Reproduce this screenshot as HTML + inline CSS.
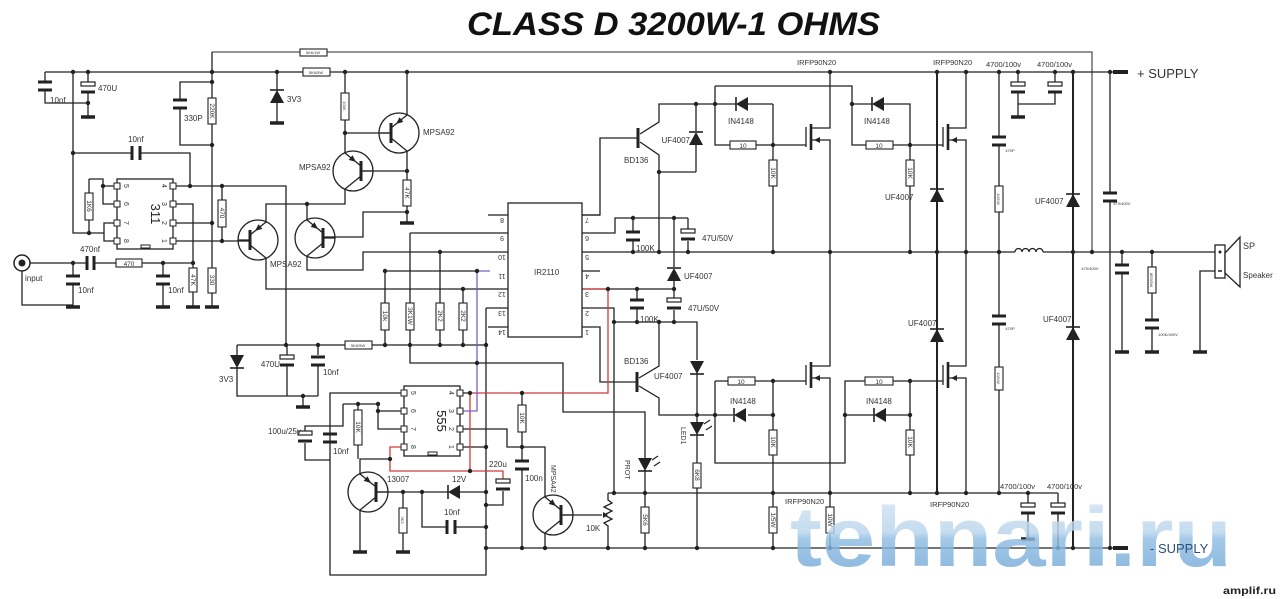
<!DOCTYPE html>
<html><head><meta charset="utf-8"><style>
html,body{margin:0;padding:0;background:#fff;}
svg{display:block;}
text{font-family:"Liberation Sans",sans-serif;fill:#333;}
</style></head><body>
<svg width="1280" height="599" viewBox="0 0 1280 599" xmlns="http://www.w3.org/2000/svg">
<defs>
<linearGradient id="wm" x1="0" y1="0" x2="0" y2="1">
<stop offset="0" stop-color="#d6e7f4"/>
<stop offset="0.45" stop-color="#b9d5ec"/>
<stop offset="0.52" stop-color="#8fbde2"/>
<stop offset="1" stop-color="#6aa3d4"/>
</linearGradient>
<g id="tr">
<circle r="20" fill="none" stroke="#222" stroke-width="1.3"/>
<path d="M-20 0 H-8 M-8 -5 L8 -18 M-8 5 L8 18" fill="none" stroke="#222" stroke-width="1.3"/>
<path d="M-8 -10 V10" stroke="#222" stroke-width="3"/>
<polygon points="-3,-9 4.3,-11.1 0.5,-15.7" fill="#222"/>
</g>
<g id="rc"><path d="M-7 0 H7 M-7 8 H7" stroke="#222" stroke-width="3" fill="none"/></g>
<g id="ec"><rect x="-7" y="-2" width="14" height="4" fill="#fff" stroke="#222" stroke-width="1.2"/><path d="M-7 8 H7" stroke="#222" stroke-width="3"/></g>
<g id="gnd"><path d="M-7 0 H7" stroke="#222" stroke-width="3.5"/></g>
<g id="dup"><polygon points="-7,7 7,7 0,-6" fill="#222"/><path d="M-7 -6 H7" stroke="#222" stroke-width="1.6"/></g>
<g id="ddn"><polygon points="-7,-6 7,-6 0,7" fill="#222"/><path d="M-7 7 H7" stroke="#222" stroke-width="1.6"/></g>
<g id="dlf"><polygon points="6,-7 6,7 -6,0" fill="#222"/><path d="M-6 -7 V7" stroke="#222" stroke-width="1.6"/></g>
</defs>
<rect width="1280" height="599" fill="#fff"/>
<text x="467" y="35" font-size="32" font-weight="bold" font-style="italic" textLength="413" lengthAdjust="spacingAndGlyphs" style="fill:#111">CLASS D 3200W-1  OHMS</text>

<g fill="none" stroke="#222" stroke-width="1.3">
<path d="M212 52 H1092 V252" stroke="#555"/>
<path d="M45 72 H1113"/>
<path d="M45 72 V82 M45 90 V103 H88 M88 72 V82 M88 92 V116"/>
<path d="M73 72 V233 H104 V223 H117 M104 233 V241 H117"/>
<path d="M73 153 H132 M140 153 H190 V186"/>
<path d="M89 179 V193 M89 220 V233 M89 179 H103 V204 H117 M103 186 H117"/>
<path d="M173 186 H286 V345 M173 204 H193 V268 M173 223 H212 M173 241 H250"/>
<path d="M222 186 V200 M222 227 V241"/>
<path d="M212 52 V98 M212 124 V268 M212 293 V306"/>
<path d="M212 82 H180 V100 M180 108 V145 H212"/>
<path d="M277 72 V90 M277 100 V122"/>
<path d="M30 263 H87 M94 263 H116 M142 263 H193 M73 263 V276 M73 284 V306 M22 271 V305 H73 M163 263 V276 M163 284 V306 M193 292 V306"/>
<path d="M132 146 V160 M140 146 V160 M87 256 V270 M94 256 V270" stroke-width="3"/>
<path d="M266 222 V204 H345 V189 M266 258 V289 H508"/>
<path d="M307 220 V204 M307 256 V270 H363 V252 H508"/>
<path d="M323 237 H363 V212 H407"/>
<path d="M361 171 H407 M345 153 V133 H390 M345 72 V93 M345 120 V133"/>
<path d="M407 115 V72 M407 151 V180 M407 206 V222"/>
<path d="M488 215 H508 M488 327 H508 M410 233 H508 M385 271 H477 M486 308 H508"/>
<path d="M385 271 V303 M385 330 V345 M410 233 V303 M410 330 V363 H563 V412 H645 V458 M440 252 V303 M440 330 V345 M463 289 V303 M463 330 V345"/>
<path d="M237 345 H345 M372 345 H486"/>
<path d="M237 345 V355 M237 367 V396 H318 M287 345 V355 M287 365 V396 M318 345 V355 M318 365 V396 M303 396 V406"/>
<path d="M486 308 V575 H330 V393 H404"/>
<path d="M343 404 H378 V429 H404 M378 411 H404 M358 404 V410 M358 445 V459 M343 404 V426 H305 V431 M305 443 V460 H330"/>
<path d="M360 474 V459 H390 M360 510 V551"/>
<path d="M376 492 H448 M460 492 H486 M403 492 V508 M403 533 V551 M422 492 V527 H447 M455 527 H486"/>
<path d="M447 520 V534 M455 520 V534" stroke-width="3"/>
<path d="M503 491 V505 H486"/>
<path d="M460 393 H470 M460 429 H507 V447 H545 V497 M460 447 H486"/>
<path d="M522 393 V405 M522 432 V461 M522 469 V548"/>
<path d="M561 515 H602 M545 533 V548"/>
<path d="M608 493 V500 l4 3 l-8 4 l8 4 l-8 4 l8 4 l-8 4 l4 3 V548"/>
<path d="M582 215 H600 V138 H638"/>
<path d="M640 134 L659 122 V104 H736 M748 104 H773 M640 142 L659 155 V172 H696 M659 172 V252"/>
<path d="M696 104 V131 M696 145 V172"/>
<path d="M715 86 V145 H730 M756 145 H806 M773 104 V160 M773 186 V252"/>
<path d="M715 86 H852 V145 H866 M893 145 H943 M852 104 H872 M884 104 H910 V160 M910 186 V252"/>
<path d="M830 72 V128 H811 M811 140 H830 V366 H811 M811 378 H830 V507 M830 533 V548"/>
<path d="M966 72 V128 H948 M948 140 H966 V366 H948 M948 378 H966 V493"/>
<path d="M806 127 V147 M806 365 V385 M943 127 V147 M943 365 V385"/>
<path d="M811 124 V150 M811 362 V388 M948 124 V150 M948 362 V388" stroke-width="2.6"/>
<path d="M582 233 H615 V218 H688 M633 218 V232 M633 240 V252 M688 218 V229 M688 241 V252 M674 218 V267 M674 280 V289"/>
<path d="M582 289 H674 M637 289 V300 M637 308 V322 M674 289 V298 M674 310 V322"/>
<path d="M582 308 H614 V493 H1058 M608 493 H614 M614 322 H697 V360 M697 373 V422 M697 434 V463 M697 488 V548"/>
<path d="M582 327 H600 V382 H637"/>
<path d="M639 378 L659 366 V322 M639 386 L659 398 V415 H733 M748 415 H773"/>
<path d="M715 381 H728 M755 381 H806 M715 381 V463 H845 V381 H865 M893 381 H943"/>
<path d="M773 381 V430 M773 455 V507 M773 533 V548 M845 415 H874 M886 415 H910 M910 381 V430 M910 455 V493"/>
<path d="M645 470 V507 M645 533 V548"/>
<path d="M486 548 H1113"/>
<path d="M937 72 V493 M1073 72 V548" stroke-width="2"/>
<path d="M999 72 V137 M999 145 V186 M999 212 V316 M999 324 V367 M999 390 V493"/>
<path d="M1110 72 V193 M1110 201 V548"/>
<path d="M582 252 H1015 M1043 252 H1215"/>
<path d="M1015 252 a3.5 3.5 0 0 1 7 0 a3.5 3.5 0 0 1 7 0 a3.5 3.5 0 0 1 7 0 a3.5 3.5 0 0 1 7 0"/>
<path d="M1122 252 V265 M1122 273 V351 M1152 252 V267 M1152 293 V320 M1152 328 V351 M1215 271 H1200 V351"/>
<path d="M1018 72 V82 M1018 93 V116 M1055 72 V82 M1055 93 V104 H1018"/>
<path d="M1028 493 V503 M1028 514 V538 M1058 493 V503 M1058 514 V548"/>
</g>
<path d="M582 289 H608 V393 H470 V471 H390 V447 H404 M470 471 H503 V479" fill="none" stroke="#d23a3a" stroke-width="1.3"/>
<path d="M460 411 H477 V271 H490" fill="none" stroke="#7a5fd0" stroke-width="1.3"/>
<rect x="1113" y="70" width="15" height="4" fill="#222"/>
<rect x="1113" y="546" width="15" height="4" fill="#222"/>

<use href="#rc" x="45" y="82"/><use href="#ec" x="88" y="84"/><use href="#rc" x="180" y="100"/>
<use href="#rc" x="73" y="276"/><use href="#rc" x="163" y="276"/>
<use href="#ec" x="287" y="357"/><use href="#rc" x="318" y="357"/>
<use href="#ec" x="305" y="433"/><use href="#rc" x="330" y="434"/>
<use href="#ec" x="503" y="481"/><use href="#rc" x="522" y="461"/>
<use href="#rc" x="633" y="232"/><use href="#ec" x="688" y="231"/>
<use href="#rc" x="637" y="300"/><use href="#ec" x="674" y="300"/>
<use href="#rc" x="999" y="137"/><use href="#rc" x="999" y="316"/>
<use href="#rc" x="1110" y="193"/><use href="#rc" x="1122" y="265"/><use href="#rc" x="1152" y="320"/>
<use href="#ec" x="1018" y="84"/><use href="#ec" x="1055" y="84"/>
<use href="#ec" x="1028" y="505"/><use href="#ec" x="1058" y="505"/>
<use href="#gnd" x="88" y="117"/><use href="#gnd" x="277" y="123"/><use href="#gnd" x="73" y="307"/>
<use href="#gnd" x="163" y="307"/><use href="#gnd" x="193" y="307"/><use href="#gnd" x="212" y="307"/>
<use href="#gnd" x="407" y="223"/><use href="#gnd" x="303" y="407"/><use href="#gnd" x="360" y="552"/>
<use href="#gnd" x="403" y="552"/><use href="#gnd" x="1018" y="117"/><use href="#gnd" x="1122" y="352"/>
<use href="#gnd" x="1152" y="352"/><use href="#gnd" x="1200" y="352"/><use href="#gnd" x="1028" y="539"/>
<use href="#dup" x="277" y="96"/><use href="#ddn" x="237" y="361"/>
<use href="#dup" x="696" y="138"/><use href="#dlf" x="742" y="104"/><use href="#dlf" x="878" y="104"/>
<use href="#dup" x="674" y="274"/><use href="#ddn" x="697" y="367"/><use href="#ddn" x="697" y="428"/>
<use href="#ddn" x="645" y="464"/>
<use href="#dlf" x="740" y="415"/><use href="#dlf" x="880" y="415"/>
<use href="#dup" x="937" y="195"/><use href="#dup" x="937" y="335"/>
<use href="#dup" x="1073" y="200"/><use href="#dup" x="1073" y="333"/>
<use href="#dlf" x="454" y="492"/>
<path d="M704 424 l6 -4 M706 430 l6 -4 M652 460 l6 -4 M654 466 l6 -4" stroke="#222" stroke-width="1.2"/>
<use href="#tr" transform="translate(258,240)"/>
<use href="#tr" transform="translate(315,238) scale(-1,1)"/>
<use href="#tr" transform="translate(353,171) scale(-1,1)"/>
<use href="#tr" transform="translate(399,133)"/>
<use href="#tr" transform="translate(368,492) scale(-1,1)"/>
<use href="#tr" transform="translate(553,515) scale(-1,1)"/>
<path d="M638 128 V148 M637 372 V392" stroke="#222" stroke-width="3"/>
<polygon points="603,512 608,515 603,518" fill="#222"/>
<polygon points="814,140 820,137 820,143" fill="#222"/>
<polygon points="814,378 820,375 820,381" fill="#222"/>
<polygon points="951,140 957,137 957,143" fill="#222"/>
<polygon points="951,378 957,375 957,381" fill="#222"/>

<g fill="#fff" stroke="#222" stroke-width="1.3">
<rect x="117" y="179" width="56" height="70"/>
<rect x="508" y="203" width="74" height="134"/>
<rect x="404" y="386" width="56" height="70"/>
</g>
<g fill="#fff" stroke="#222" stroke-width="1">
<rect x="114" y="183" width="6" height="6"/><rect x="114" y="201" width="6" height="6"/><rect x="114" y="220" width="6" height="6"/><rect x="114" y="238" width="6" height="6"/>
<rect x="170" y="183" width="6" height="6"/><rect x="170" y="201" width="6" height="6"/><rect x="170" y="220" width="6" height="6"/><rect x="170" y="238" width="6" height="6"/>
<rect x="401" y="390" width="6" height="6"/><rect x="401" y="408" width="6" height="6"/><rect x="401" y="426" width="6" height="6"/><rect x="401" y="444" width="6" height="6"/>
<rect x="457" y="390" width="6" height="6"/><rect x="457" y="408" width="6" height="6"/><rect x="457" y="426" width="6" height="6"/><rect x="457" y="444" width="6" height="6"/>
<rect x="141" y="245" width="9" height="3"/><rect x="428" y="452" width="9" height="3"/>
</g>
<path d="M582 215 H600 M582 271 H600" stroke="#222" stroke-width="1.3"/>

<g fill="#fff" stroke="#222" stroke-width="1.1">
<rect x="300" y="49" width="27" height="7"/><rect x="303" y="68" width="27" height="8"/>
<rect x="208" y="98" width="8" height="26"/><rect x="85" y="193" width="8" height="27"/>
<rect x="218" y="200" width="8" height="27"/><rect x="116" y="259" width="26" height="8"/>
<rect x="189" y="268" width="8" height="24"/><rect x="208" y="268" width="8" height="25"/>
<rect x="341" y="93" width="8" height="27"/><rect x="403" y="180" width="8" height="26"/>
<rect x="381" y="303" width="8" height="27"/><rect x="406" y="303" width="8" height="27"/>
<rect x="436" y="303" width="8" height="27"/><rect x="459" y="303" width="8" height="27"/>
<rect x="345" y="341" width="27" height="8"/>
<rect x="354" y="410" width="8" height="35"/><rect x="399" y="508" width="8" height="25"/>
<rect x="518" y="405" width="8" height="27"/>
<rect x="730" y="141" width="26" height="8"/><rect x="769" y="160" width="8" height="26"/>
<rect x="866" y="141" width="27" height="8"/><rect x="906" y="160" width="8" height="26"/>
<rect x="728" y="377" width="27" height="8"/><rect x="865" y="377" width="28" height="8"/>
<rect x="769" y="430" width="8" height="25"/><rect x="906" y="430" width="8" height="25"/>
<rect x="693" y="463" width="8" height="25"/><rect x="641" y="507" width="8" height="26"/>
<rect x="769" y="507" width="8" height="26"/><rect x="826" y="507" width="8" height="26"/>
<rect x="995" y="186" width="8" height="26"/><rect x="995" y="367" width="8" height="23"/>
<rect x="1148" y="267" width="8" height="26"/>
</g>
<circle cx="22" cy="263" r="8" fill="#fff" stroke="#222" stroke-width="1.5"/>
<circle cx="22" cy="263" r="3.5" fill="#222"/>
<rect x="1215" y="245" width="10" height="33" fill="#fff" stroke="#222" stroke-width="1.3"/>
<polygon points="1225,253 1240,237 1240,287 1225,273" fill="#fff" stroke="#222" stroke-width="1.3"/>
<circle cx="1220" cy="252" r="1.5" fill="#222"/><path d="M1218 271 h4" stroke="#222" stroke-width="1.5"/>

<g fill="#222">
<circle cx="73" cy="72" r="2.2"/><circle cx="88" cy="72" r="2.2"/><circle cx="212" cy="72" r="2.2"/><circle cx="277" cy="72" r="2.2"/><circle cx="345" cy="72" r="2.2"/><circle cx="407" cy="72" r="2.2"/>
<circle cx="212" cy="82" r="2.2"/><circle cx="212" cy="145" r="2.2"/><circle cx="73" cy="153" r="2.2"/><circle cx="88" cy="103" r="2.2"/>
<circle cx="190" cy="186" r="2.2"/><circle cx="222" cy="186" r="2.2"/><circle cx="212" cy="223" r="2.2"/><circle cx="222" cy="241" r="2.2"/>
<circle cx="89" cy="233" r="2.2"/><circle cx="103" cy="186" r="2.2"/><circle cx="73" cy="263" r="2.2"/><circle cx="163" cy="263" r="2.2"/><circle cx="193" cy="263" r="2.2"/>
<circle cx="307" cy="204" r="2.2"/><circle cx="345" cy="133" r="2.2"/><circle cx="407" cy="171" r="2.2"/><circle cx="407" cy="212" r="2.2"/>
<circle cx="440" cy="252" r="2.2"/><circle cx="385" cy="271" r="2.2"/><circle cx="477" cy="271" r="2.2"/><circle cx="463" cy="289" r="2.2"/>
<circle cx="286" cy="345" r="2.2"/><circle cx="318" cy="345" r="2.2"/><circle cx="385" cy="345" r="2.2"/><circle cx="410" cy="345" r="2.2"/><circle cx="440" cy="345" r="2.2"/><circle cx="463" cy="345" r="2.2"/><circle cx="486" cy="345" r="2.2"/>
<circle cx="303" cy="396" r="2.2"/><circle cx="477" cy="363" r="2.2"/>
<circle cx="470" cy="393" r="2.2"/><circle cx="522" cy="393" r="2.2"/><circle cx="378" cy="404" r="2.2"/><circle cx="358" cy="404" r="2.2"/><circle cx="378" cy="411" r="2.2"/>
<circle cx="390" cy="459" r="2.2"/><circle cx="470" cy="471" r="2.2"/><circle cx="486" cy="447" r="2.2"/><circle cx="522" cy="447" r="2.2"/>
<circle cx="403" cy="492" r="2.2"/><circle cx="422" cy="492" r="2.2"/><circle cx="486" cy="492" r="2.2"/><circle cx="486" cy="505" r="2.2"/><circle cx="486" cy="527" r="2.2"/>
<circle cx="486" cy="548" r="2.2"/><circle cx="522" cy="548" r="2.2"/><circle cx="545" cy="548" r="2.2"/><circle cx="608" cy="548" r="2.2"/><circle cx="645" cy="548" r="2.2"/><circle cx="697" cy="548" r="2.2"/><circle cx="773" cy="548" r="2.2"/><circle cx="830" cy="548" r="2.2"/><circle cx="1058" cy="548" r="2.2"/><circle cx="1073" cy="548" r="2.2"/><circle cx="1110" cy="548" r="2.2"/>
<circle cx="608" cy="289" r="2.2"/><circle cx="637" cy="289" r="2.2"/><circle cx="633" cy="218" r="2.2"/><circle cx="674" cy="218" r="2.2"/>
<circle cx="633" cy="252" r="2.2"/><circle cx="659" cy="252" r="2.2"/><circle cx="688" cy="252" r="2.2"/><circle cx="773" cy="252" r="2.2"/><circle cx="830" cy="252" r="2.2"/><circle cx="910" cy="252" r="2.2"/><circle cx="937" cy="252" r="2.2"/><circle cx="966" cy="252" r="2.2"/><circle cx="999" cy="252" r="2.2"/><circle cx="1073" cy="252" r="2.2"/><circle cx="1092" cy="252" r="2.2"/><circle cx="1122" cy="252" r="2.2"/><circle cx="1152" cy="252" r="2.2"/>
<circle cx="614" cy="322" r="2.2"/><circle cx="637" cy="322" r="2.2"/><circle cx="659" cy="322" r="2.2"/><circle cx="674" cy="322" r="2.2"/><circle cx="674" cy="289" r="2.2"/>
<circle cx="659" cy="172" r="2.2"/><circle cx="696" cy="104" r="2.2"/><circle cx="715" cy="104" r="2.2"/><circle cx="773" cy="145" r="2.2"/><circle cx="852" cy="104" r="2.2"/><circle cx="910" cy="145" r="2.2"/>
<circle cx="830" cy="72" r="2.2"/><circle cx="937" cy="72" r="2.2"/><circle cx="966" cy="72" r="2.2"/><circle cx="999" cy="72" r="2.2"/><circle cx="1018" cy="72" r="2.2"/><circle cx="1055" cy="72" r="2.2"/><circle cx="1073" cy="72" r="2.2"/><circle cx="1110" cy="72" r="2.2"/>
<circle cx="697" cy="415" r="2.2"/><circle cx="715" cy="415" r="2.2"/><circle cx="773" cy="415" r="2.2"/><circle cx="773" cy="381" r="2.2"/><circle cx="845" cy="415" r="2.2"/><circle cx="910" cy="381" r="2.2"/><circle cx="910" cy="415" r="2.2"/>
<circle cx="614" cy="493" r="2.2"/><circle cx="645" cy="493" r="2.2"/><circle cx="773" cy="493" r="2.2"/><circle cx="830" cy="493" r="2.2"/><circle cx="910" cy="493" r="2.2"/><circle cx="937" cy="493" r="2.2"/><circle cx="966" cy="493" r="2.2"/><circle cx="999" cy="493" r="2.2"/><circle cx="1028" cy="493" r="2.2"/>
</g>

<g font-size="8">
<text x="50" y="103">10nf</text><text x="98" y="91">470U</text><text x="184" y="121">330P</text><text x="287" y="102">3V3</text>
<text x="128" y="142">10nf</text><text x="80" y="252">470nf</text><text x="25" y="281">input</text>
<text x="78" y="293">10nf</text><text x="168" y="293">10nf</text>
<text x="270" y="267">MPSA92</text><text x="299" y="170">MPSA92</text><text x="423" y="135">MPSA92</text>
<text x="219" y="382">3V3</text><text x="257" y="367" text-anchor="end" dx="23">470U</text><text x="323" y="375">10nf</text>
<text x="534" y="275">IR2110</text>
<text x="624" y="163">BD136</text><text x="690" y="143" text-anchor="end">UF4007</text><text x="728" y="124">IN4148</text><text x="864" y="124">IN4148</text>
<text x="797" y="65" font-size="7.5">IRFP90N20</text><text x="933" y="65" font-size="7.5">IRFP90N20</text>
<text x="986" y="67" font-size="7.5">4700/100v</text><text x="1037" y="67" font-size="7.5">4700/100v</text>
<text x="702" y="241">47U/50V</text><text x="636" y="251">100K</text><text x="684" y="279">UF4007</text><text x="688" y="311">47U/50V</text><text x="640" y="322">100K</text>
<text x="624" y="364">BD136</text><text x="660" y="379" text-anchor="start" dx="-6">UF4007</text><text x="730" y="404">IN4148</text><text x="866" y="404">IN4148</text>
<text x="885" y="200">UF4007</text><text x="1035" y="204">UF4007</text><text x="908" y="326">UF4007</text><text x="1043" y="322">UF4007</text>
<text x="586" y="531">10K</text><text x="785" y="504" font-size="7.5">IRFP90N20</text><text x="930" y="507" font-size="7.5">IRFP90N20</text>
<text x="1000" y="489" font-size="7.5">4700/100v</text><text x="1047" y="489" font-size="7.5">4700/100v</text>
<text x="268" y="434">100u/25v</text><text x="333" y="454">10nf</text><text x="387" y="482">13007</text><text x="452" y="482">12V</text>
<text x="444" y="515">10nf</text><text x="489" y="467">220u</text><text x="525" y="481">100n</text>
<text x="1243" y="249" font-size="9">SP</text><text x="1243" y="278" font-size="8">Speaker</text>
</g>
<text x="1137" y="78" font-size="13">+ SUPPLY</text>
<g font-size="7" transform="rotate(90)">
<text x="427" y="-681">LED1</text><text x="460" y="-625">PROT</text><text x="465" y="-551">MPSA42</text>
</g>
<text transform="translate(151,214) rotate(90)" font-size="13" text-anchor="middle" style="fill:#222">311</text>
<text transform="translate(437,421) rotate(90)" font-size="13" text-anchor="middle" style="fill:#222">555</text>
<g font-size="7" text-anchor="middle">
<text transform="translate(126,186) rotate(90)" dy="2">5</text><text transform="translate(126,204) rotate(90)" dy="2">6</text><text transform="translate(126,223) rotate(90)" dy="2">7</text><text transform="translate(126,241) rotate(90)" dy="2">8</text>
<text transform="translate(164,186) rotate(90)" dy="2">4</text><text transform="translate(164,204) rotate(90)" dy="2">3</text><text transform="translate(164,223) rotate(90)" dy="2">2</text><text transform="translate(164,241) rotate(90)" dy="2">1</text>
<text transform="translate(413,393) rotate(90)" dy="2">5</text><text transform="translate(413,411) rotate(90)" dy="2">6</text><text transform="translate(413,429) rotate(90)" dy="2">7</text><text transform="translate(413,447) rotate(90)" dy="2">8</text>
<text transform="translate(451,393) rotate(90)" dy="2">4</text><text transform="translate(451,411) rotate(90)" dy="2">3</text><text transform="translate(451,429) rotate(90)" dy="2">2</text><text transform="translate(451,447) rotate(90)" dy="2">1</text>
<text transform="translate(502,218) rotate(180)">8</text><text transform="translate(502,236) rotate(180)">9</text><text transform="translate(502,255) rotate(180)">10</text><text transform="translate(502,274) rotate(180)">11</text><text transform="translate(502,292) rotate(180)">12</text><text transform="translate(502,311) rotate(180)">13</text><text transform="translate(502,330) rotate(180)">14</text>
<text transform="translate(587,218) rotate(180)">7</text><text transform="translate(587,236) rotate(180)">6</text><text transform="translate(587,255) rotate(180)">5</text><text transform="translate(587,274) rotate(180)">4</text><text transform="translate(587,292) rotate(180)">3</text><text transform="translate(587,311) rotate(180)">2</text><text transform="translate(587,330) rotate(180)">1</text>
</g>
<g font-size="6.5" text-anchor="middle">
<text transform="translate(212,111) rotate(90)" dy="2">220K</text><text transform="translate(89,206) rotate(90)" dy="2">1K6</text>
<text transform="translate(222,213) rotate(90)" dy="2">470</text><text x="129" y="266">470</text>
<text transform="translate(193,280) rotate(90)" dy="2">47K</text><text transform="translate(212,280) rotate(90)" dy="2">330</text>
<text transform="translate(407,193) rotate(90)" dy="2">47K</text><text transform="translate(345,106) rotate(90)" dy="2" font-size="4">100K</text>
<text transform="translate(385,316) rotate(90)" dy="2">10k</text><text transform="translate(410,316) rotate(90)" dy="2">3K1W</text>
<text transform="translate(440,316) rotate(90)" dy="2">2K2</text><text transform="translate(463,316) rotate(90)" dy="2">2K2</text>
<text x="358" y="347" font-size="4">5K6/5W</text><text x="313" y="54" font-size="4">5K6/1W</text><text x="316" y="74" font-size="4">5K6/5W</text>
<text transform="translate(358,427) rotate(90)" dy="2">10K</text><text transform="translate(403,520) rotate(90)" dy="2" font-size="4">3K3</text>
<text transform="translate(522,418) rotate(90)" dy="2">10K</text>
<text x="743" y="148">10</text><text x="879" y="148">10</text><text x="741" y="384">10</text><text x="879" y="384">10</text>
<text transform="translate(773,173) rotate(90)" dy="2">10K</text><text transform="translate(910,173) rotate(90)" dy="2">10K</text>
<text transform="translate(773,442) rotate(90)" dy="2">10K</text><text transform="translate(910,442) rotate(90)" dy="2">10K</text>
<text transform="translate(697,475) rotate(90)" dy="2">6K8</text><text transform="translate(645,520) rotate(90)" dy="2">5K6</text>
<text transform="translate(773,520) rotate(90)" dy="2">1/5W</text><text transform="translate(830,520) rotate(90)" dy="2">10W</text>
<text transform="translate(999,199) rotate(90)" dy="2" font-size="4">10/1W</text><text transform="translate(999,378) rotate(90)" dy="2" font-size="4">10/1W</text>
<text transform="translate(1152,280) rotate(90)" dy="2" font-size="4">8R2/5W</text>
<text x="1010" y="152" font-size="4">470P</text><text x="1010" y="330" font-size="4">470P</text><text x="1122" y="205" font-size="4">470/400V</text>
<text x="1090" y="270" font-size="4">470/400V</text><text x="1168" y="336" font-size="4">100K/400V</text>
</g>

<text x="790" y="566" font-size="84" font-weight="bold" textLength="442" lengthAdjust="spacingAndGlyphs" style="fill:url(#wm);opacity:0.82">tehnari.ru</text>
<text x="1150" y="553" font-size="13" style="fill:#2a4f7a">- SUPPLY</text>
<text x="1223" y="594" font-size="10" font-weight="bold" textLength="53" lengthAdjust="spacingAndGlyphs" style="fill:#222">amplif.ru</text>
</svg>
</body></html>
